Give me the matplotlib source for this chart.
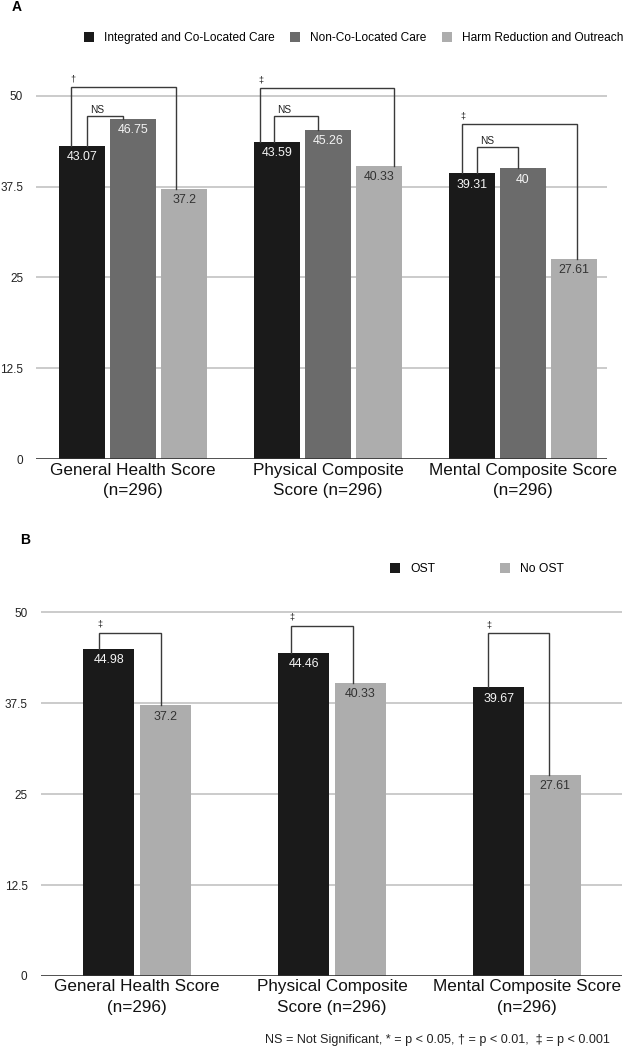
import matplotlib

matplotlib.use("Agg")
import matplotlib.pyplot as plt
from matplotlib.patches import Patch

plt.rcParams["font.family"] = ["Liberation Sans", "DejaVu Sans"]

# datos
CATEGORIAS = [
    "General Health Score\n(n=296)",
    "Physical Composite\nScore (n=296)",
    "Mental Composite Score\n(n=296)",
]

SERIES_A = ["Integrated and Co-Located Care", "Non-Co-Located Care", "Harm Reduction and Outreach"]
INTEGRADO = [43.07, 43.59, 39.31]
NO_CO_LOCALIZADO = [46.75, 45.26, 40]
REDUCCION_DANOS = [37.2, 40.33, 27.61]

SERIES_B = ["OST", "No OST"]
OST = [44.98, 44.46, 39.67]
SIN_OST = [37.2, 40.33, 27.61]

Y_TICKS = [0, 12.5, 25, 37.5, 50]
Y_ETIQUETAS = ["0", "12.5", "25", "37.5", "50"]

# (grupo, barra izquierda, barra derecha, etiqueta)
SIGNIF_A = [(0, 0, 2, "†"), (0, 0, 1, "NS"), (1, 0, 2, "‡"), (1, 0, 1, "NS"), (2, 0, 2, "‡"), (2, 0, 1, "NS")]
SIGNIF_B = [(0, 0, 1, "‡"), (1, 0, 1, "‡"), (2, 0, 1, "‡")]

NOTA = "NS = Not Significant, * = p < 0.05, † = p < 0.01,  ‡ = p < 0.001"

# estilo / disposicion
COLORES_A = ["#1a1a1a", "#6b6b6b", "#adadad"]
COLORES_B = ["#1a1a1a", "#adadad"]
COLOR_TEXTO_BARRA = ["#f4f4f4", "#f4f4f4", "#333333"]
COLOR_TEXTO_BARRA_B = ["#f4f4f4", "#333333"]
PX = 1 / 195  # un pixel en unidades de categoria

# altura del corchete y desplazamiento de las patas (px) respecto al centro de barra
FORMA_A = [(51.15, -11, -8), (47.25, 5, -10), (51.02, -17, 15), (47.25, -3, -10), (46.07, -10, 3), (42.99, 5, -5)]
FORMA_B = [(47.16, -10, -4), (48.16, -13, -7), (47.1, -11, -6)]


def preparar_ejes(ax, xlim):
    ax.set_xlim(*xlim)
    ax.set_ylim(0, 55)
    for lado in ax.spines.values():
        lado.set_visible(False)
    ax.set_yticks(Y_TICKS)
    ax.set_yticklabels(Y_ETIQUETAS)
    ax.tick_params(axis="y", length=0, pad=9.3, labelsize=8.5, labelcolor="#222222")
    ax.set_xticks(range(len(CATEGORIAS)))
    ax.set_xticklabels(CATEGORIAS, fontsize=12.3, color="#111111", linespacing=1.45)
    ax.tick_params(axis="x", length=0, pad=2.5)
    for valor in Y_TICKS[1:]:
        ax.axhline(valor, color="#bdbdbd", linewidth=1.1, zorder=0)
    ax.axhline(0, color="#333333", linewidth=1.2, zorder=3)


def dibujar_barras(ax, series, colores, colores_texto, paso, ancho, desfase):
    posiciones = []
    for j, (valores, color) in enumerate(zip(series, colores)):
        xs = [i + (j - desfase) * paso for i in range(len(valores))]
        posiciones.append(xs)
        ax.bar(xs, valores, width=ancho, color=color, zorder=2)
        for x, v in zip(xs, valores):
            ax.annotate(f"{v:g}", (x, v), xytext=(0, -8), textcoords="offset points",
                        ha="center", va="center", fontsize=8.9, color=colores_texto[j], zorder=4)
    return posiciones


def dibujar_corchetes(ax, series, posiciones, signif, forma):
    for (grupo, izq, der, etiqueta), (tope, d_izq, d_der) in zip(signif, forma):
        x1 = posiciones[izq][grupo] + d_izq * PX
        x2 = posiciones[der][grupo] + d_der * PX
        y1 = series[izq][grupo]
        y2 = series[der][grupo]
        ax.plot([x1, x1, x2, x2], [y1, tope, tope, y2], color="#3a3a3a", linewidth=1.0,
                zorder=5, solid_joinstyle="miter")
        if etiqueta == "NS":
            ax.annotate(etiqueta, (x1 + 3 * PX, tope), xytext=(0, 4.2), textcoords="offset points",
                        ha="left", va="center", fontsize=7.3, color="#222222")
        else:
            ax.annotate(etiqueta, (x1 + 1.5 * PX, tope), xytext=(0, 6.2), textcoords="offset points",
                        ha="center", va="center", fontsize=6.5, color="#222222")


fig = plt.figure(figsize=(6.24, 10.5), dpi=100)

# panel A
ax_a = fig.add_axes([36 / 624, (1050 - 459.3) / 1050, 571 / 624, 400 / 1050])
preparar_ejes(ax_a, ((36 - 133) / 195, (607 - 133) / 195))
series_a = [INTEGRADO, NO_CO_LOCALIZADO, REDUCCION_DANOS]
pos_a = dibujar_barras(ax_a, series_a, COLORES_A, COLOR_TEXTO_BARRA, 0.262, 0.24, 1)
dibujar_corchetes(ax_a, series_a, pos_a, SIGNIF_A, FORMA_A)

# panel B
ax_b = fig.add_axes([40.5 / 624, (1050 - 976) / 1050, 581.5 / 624, 400 / 1050])
preparar_ejes(ax_b, ((40.5 - 137) / 195, (622 - 137) / 195))
series_b = [OST, SIN_OST]
pos_b = dibujar_barras(ax_b, series_b, COLORES_B, COLOR_TEXTO_BARRA_B, 0.288, 0.262, 0.5)
dibujar_corchetes(ax_b, series_b, pos_b, SIGNIF_B, FORMA_B)

# leyendas
manijas_a = [Patch(facecolor=c, edgecolor="none") for c in COLORES_A]
fig.legend(manijas_a, SERIES_A, loc="center right", bbox_to_anchor=(623 / 624, 1 - 38 / 1050), ncol=3,
           frameon=False, fontsize=8.6, handlelength=0.85, handleheight=0.85, handletextpad=0.8,
           columnspacing=1.3, borderpad=0, borderaxespad=0)
manijas_b = [Patch(facecolor=c, edgecolor="none") for c in COLORES_B]
fig.legend(manijas_b, SERIES_B, loc="center", bbox_to_anchor=(477 / 624, 1 - 569 / 1050), ncol=2,
           frameon=False, fontsize=8.7, handlelength=0.85, handleheight=0.85, handletextpad=0.8,
           columnspacing=5.4, borderpad=0, borderaxespad=0)

fig.text(16.7 / 624, 1 - 7 / 1050, "A", fontsize=10, fontweight="bold", ha="center", va="center")
fig.text(25 / 624, 1 - 540 / 1050, "B", fontsize=10, fontweight="bold", ha="center", va="center")
fig.text(610 / 624, 1 - 1040 / 1050, NOTA, fontsize=9.1, ha="right", va="center", color="#222222")

fig.savefig("out.png", dpi=100)
plt.close(fig)
